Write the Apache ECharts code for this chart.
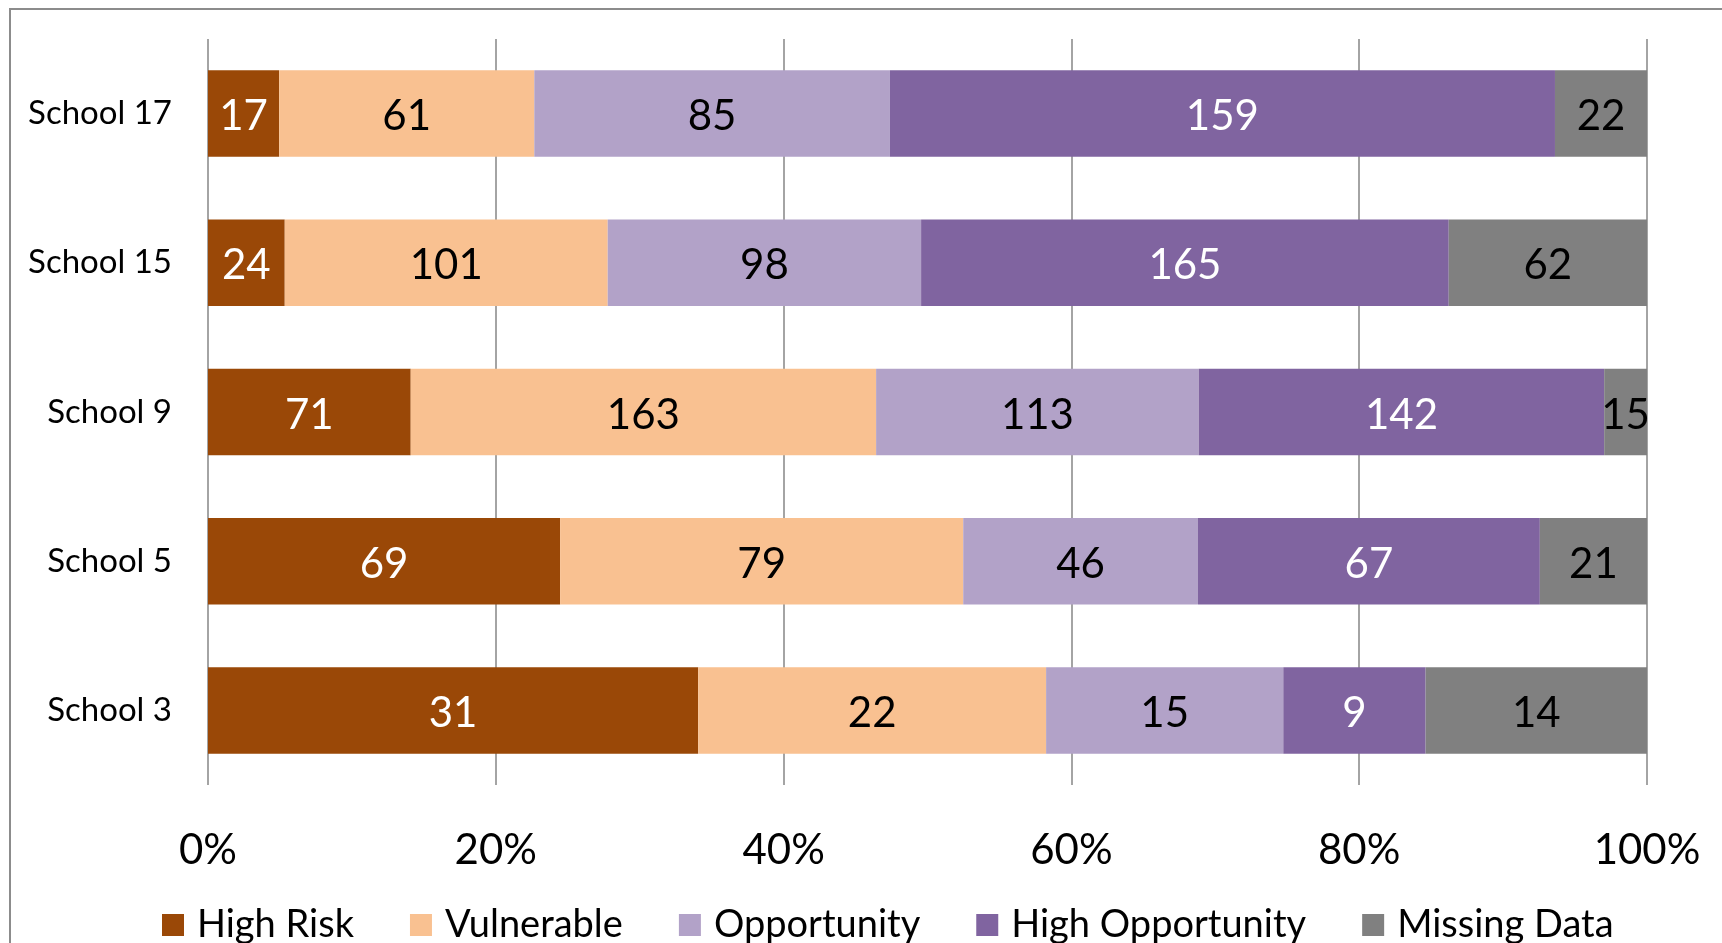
<!DOCTYPE html>
<html>
<head>
<meta charset="utf-8">
<style>
  html, body { margin: 0; padding: 0; background: #fff; }
  #chart { width: 1722px; height: 943px; }
</style>
<script src="https://cdn.jsdelivr.net/npm/echarts@6/dist/echarts.min.js"></script>
</head>
<body>
<div id="chart"></div>
<script>
// Schools, listed top to bottom
const schools = ['School 17', 'School 15', 'School 9', 'School 5', 'School 3'];

// Student counts per group, same order as schools
const highRisk        = [17, 24, 71, 69, 31];
const vulnerable      = [61, 101, 163, 79, 22];
const opportunity     = [85, 98, 113, 46, 15];
const highOpportunity = [159, 165, 142, 67, 9];
const missingData     = [22, 62, 15, 21, 14];

const groupNames  = ['High Risk', 'Vulnerable', 'Opportunity', 'High Opportunity', 'Missing Data'];
const groupColors = ['#9A4807', '#F9C191', '#B2A2C8', '#8064A0', '#808080'];
const labelColors = ['#ffffff', '#000000', '#000000', '#ffffff', '#000000'];
const percentTicks = [0, 20, 40, 60, 80, 100];

const groups = [highRisk, vulnerable, opportunity, highOpportunity, missingData];
const totals = schools.map((_, i) => groups.reduce((s, g) => s + g[i], 0));

const FONT = 'Lato';

const series = groups.map((g, k) => ({
  name: groupNames[k],
  type: 'bar',
  stack: 'total',
  barCategoryGap: '42%',
  itemStyle: { color: groupColors[k] },
  label: {
    show: true,
    position: 'inside',
    color: labelColors[k],
    fontFamily: FONT,
    fontSize: 42,
    offset: [0, 3],
    formatter: p => g[p.dataIndex]
  },
  emphasis: { disabled: true },
  data: g.map((v, i) => v / totals[i] * 100)
}));

const chart = echarts.init(document.getElementById('chart'), null, { renderer: 'canvas' });
chart.setOption({
  animation: false,
  backgroundColor: '#ffffff',
  graphic: [{
    type: 'rect',
    shape: { x: 10, y: 9, width: 1800, height: 1000 },
    style: { fill: 'none', stroke: '#8c8c8c', lineWidth: 2 },
    silent: true
  }],
  grid: { left: 208, right: 75, top: 39, bottom: 158 },
  legend: {
    data: groupNames,
    bottom: -6,
    left: 157,
    icon: 'rect',
    itemWidth: 22,
    itemHeight: 22,
    itemGap: 56,
    textStyle: { fontFamily: FONT, fontSize: 38, color: '#000', padding: [0, 0, 0, 8] }
  },
  xAxis: {
    type: 'value',
    min: 0,
    max: 100,
    interval: 20,
    axisLine: { show: false },
    axisTick: { show: false },
    axisLabel: {
      fontFamily: FONT,
      fontSize: 42,
      color: '#000',
      margin: 44,
      formatter: v => (percentTicks.includes(v) ? v + '%' : '')
    },
    splitLine: { lineStyle: { color: '#868686', width: 1.5 } }
  },
  yAxis: {
    type: 'category',
    data: schools,
    inverse: true,
    axisLine: { show: false },
    axisTick: { show: false },
    axisLabel: { fontFamily: FONT, fontSize: 33, color: '#000', margin: 36 }
  },
  series: series
});
</script>
</body>
</html>
